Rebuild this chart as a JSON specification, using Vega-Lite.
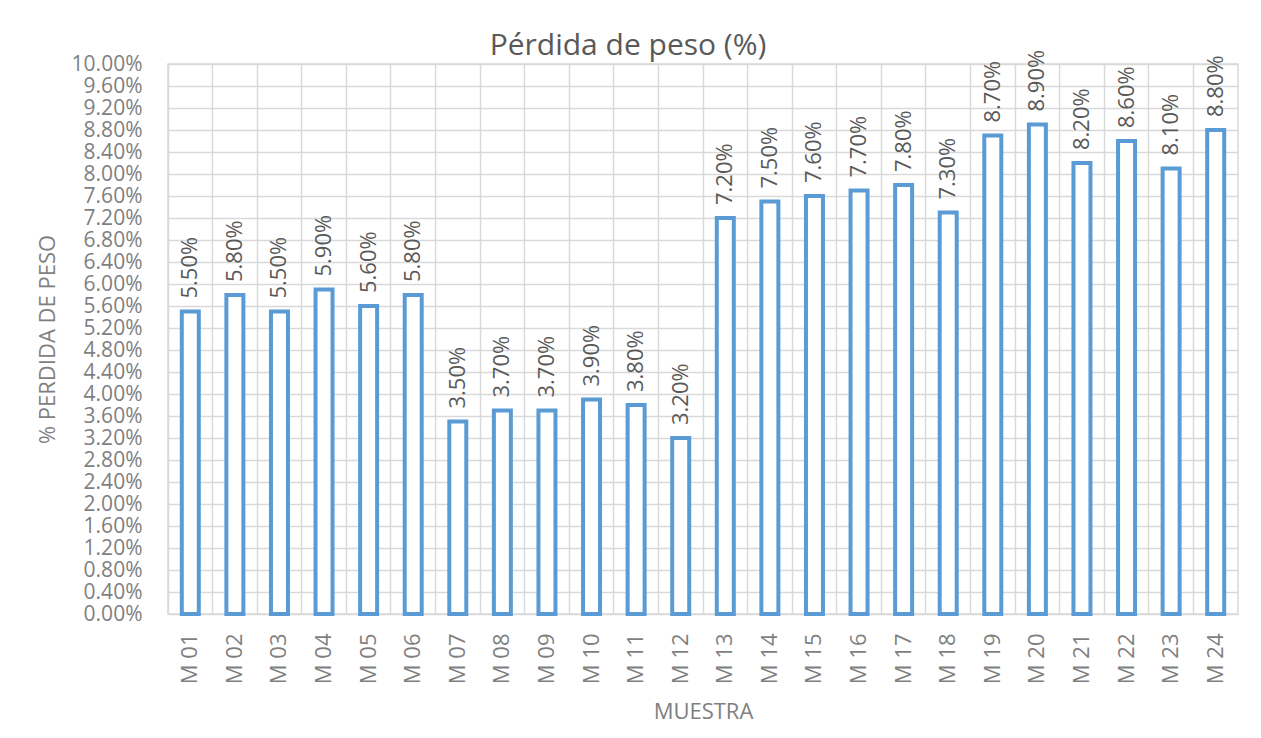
{
  "$schema": "https://vega.github.io/schema/vega-lite/v6.json",
  "autosize": "none",
  "width": 1070,
  "height": 550,
  "padding": {"left": 168, "top": 64, "right": 23, "bottom": 124},
  "background": "white",
  "config": {
    "font": "Open Sans",
    "view": {"stroke": "#d9d9d9", "strokeWidth": 1.5},
    "axis": {"gridColor": "#d9d9d9", "gridWidth": 1.5, "labelColor": "#7f7f7f", "titleColor": "#7f7f7f", "labelFont": "Open Sans", "titleFont": "Open Sans", "titleFontWeight": "normal"}
  },
  "title": {"text": "Pérdida de peso (%)", "fontSize": 30, "fontWeight": "normal", "color": "#595959", "font": "Open Sans", "dx": -75, "offset": 4, "baseline": "alphabetic", "dy": 39},
  "data": {"values": [
    {"muestra": "M 01", "perdida": 0.055},
    {"muestra": "M 02", "perdida": 0.058},
    {"muestra": "M 03", "perdida": 0.055},
    {"muestra": "M 04", "perdida": 0.059},
    {"muestra": "M 05", "perdida": 0.056},
    {"muestra": "M 06", "perdida": 0.058},
    {"muestra": "M 07", "perdida": 0.035},
    {"muestra": "M 08", "perdida": 0.037},
    {"muestra": "M 09", "perdida": 0.037},
    {"muestra": "M 10", "perdida": 0.039},
    {"muestra": "M 11", "perdida": 0.038},
    {"muestra": "M 12", "perdida": 0.032},
    {"muestra": "M 13", "perdida": 0.072},
    {"muestra": "M 14", "perdida": 0.075},
    {"muestra": "M 15", "perdida": 0.076},
    {"muestra": "M 16", "perdida": 0.077},
    {"muestra": "M 17", "perdida": 0.078},
    {"muestra": "M 18", "perdida": 0.073},
    {"muestra": "M 19", "perdida": 0.087},
    {"muestra": "M 20", "perdida": 0.089},
    {"muestra": "M 21", "perdida": 0.082},
    {"muestra": "M 22", "perdida": 0.086},
    {"muestra": "M 23", "perdida": 0.081},
    {"muestra": "M 24", "perdida": 0.088}
  ]},
  "encoding": {
    "x": {"field": "muestra", "type": "nominal", "sort": null,
      "scale": {"paddingInner": 0, "paddingOuter": 0},
      "axis": {"title": "MUESTRA", "titleFontSize": 22, "titlePadding": 18, "labelAngle": -90, "labelAlign": "right", "labelBaseline": "middle", "labelFontSize": 22, "labelPadding": 19, "labelOverlap": false, "ticks": false, "domain": false, "grid": true, "bandPosition": 0}},
    "y": {"field": "perdida", "type": "quantitative",
      "scale": {"domain": [0, 0.1], "nice": false},
      "axis": {"title": "% PERDIDA DE PESO", "titleFontSize": 22, "titlePadding": 12, "format": ".2%", "labelFontSize": 21, "labelPadding": 26, "labelOverlap": false, "labelBound": false, "ticks": false, "domain": false,
        "values": [0, 0.004, 0.008, 0.012, 0.016, 0.02, 0.024, 0.028, 0.032, 0.036, 0.04, 0.044, 0.048, 0.052, 0.056, 0.06, 0.064, 0.068, 0.072, 0.076, 0.08, 0.084, 0.088, 0.092, 0.096, 0.1]}}
  },
  "layer": [
    {"mark": {"type": "bar", "size": 17, "fill": "white", "stroke": "#5b9bd5", "strokeWidth": 4}},
    {"mark": {"type": "text", "angle": -90, "align": "left", "baseline": "middle", "dx": 13, "fontSize": 22, "color": "#595959"},
      "encoding": {"text": {"field": "perdida", "type": "quantitative", "format": ".2%"}}}
  ]
}
